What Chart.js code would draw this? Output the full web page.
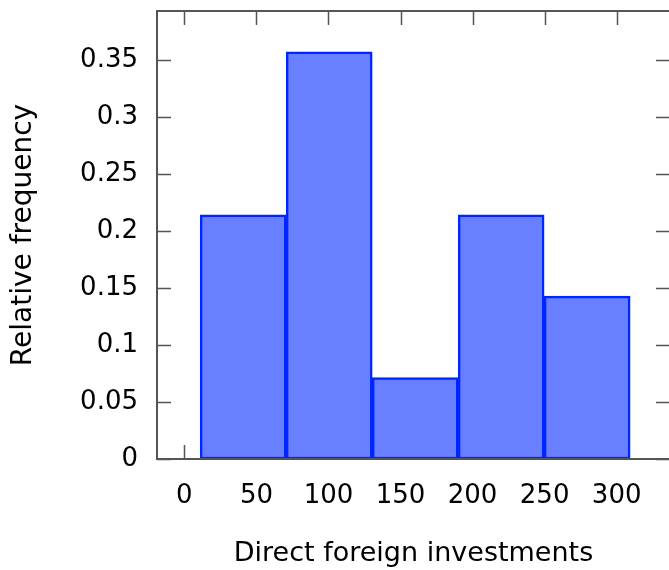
<!DOCTYPE html>
<html>
<head>
<meta charset="utf-8">
<script src="https://cdn.jsdelivr.net/npm/chart.js@4/dist/chart.umd.min.js"></script>
<style>
  html, body { margin: 0; padding: 0; overflow: hidden; background: #fff; }
  canvas { display: block; }
</style>
</head>
<body>
<canvas id="hist" width="672" height="570"></canvas>
<script>
// Histogram bins (centres) and relative frequencies
const binCenters = [40.8, 100.5, 160.2, 219.8, 279.5];
const relFreq = [0.2143, 0.3571, 0.0714, 0.2143, 0.1429];
const xTicks = [0, 50, 100, 150, 200, 250, 300];
const yTicks = [0, 0.05, 0.1, 0.15, 0.2, 0.25, 0.3, 0.35];

const axisColor = '#555555';
const fontFamily = '"DejaVu Sans", Verdana, sans-serif';

// gnuplot-style frame with inward ticks on all four sides
const frameTicks = {
  id: 'frameTicks',
  beforeDatasetsDraw(chart) {
    const { ctx, chartArea: a, scales: { x, y } } = chart;
    const len = 14;
    ctx.save();
    ctx.strokeStyle = axisColor;
    ctx.lineWidth = 1.5;
    ctx.beginPath();
    x.ticks.forEach(t => {
      const px = Math.round(x.getPixelForValue(t.value)) + 0.5;
      ctx.moveTo(px, a.bottom); ctx.lineTo(px, a.bottom - len);
      ctx.moveTo(px, a.top); ctx.lineTo(px, a.top + len);
    });
    y.ticks.forEach(t => {
      const py = Math.round(y.getPixelForValue(t.value)) + 0.5;
      ctx.moveTo(a.left, py); ctx.lineTo(a.left + len, py);
      ctx.moveTo(a.right, py); ctx.lineTo(a.right - len, py);
    });
    ctx.stroke();
    ctx.restore();
  },
  afterDatasetsDraw(chart) {
    const { ctx, chartArea: a } = chart;
    ctx.save();
    ctx.strokeStyle = axisColor;
    ctx.lineWidth = 2;
    ctx.strokeRect(a.left, a.top, a.right - a.left, a.bottom - a.top);
    ctx.restore();
  }
};

new Chart(document.getElementById('hist'), {
  type: 'bar',
  data: {
    datasets: [{
      data: binCenters.map((c, i) => ({ x: c, y: relFreq[i] })),
      backgroundColor: 'rgb(104,127,255)',
      borderColor: 'rgb(0,38,255)',
      borderWidth: 2.5,
      borderSkipped: false,
      barThickness: 'flex',
      barPercentage: 1,
      categoryPercentage: 1,
    }],
  },
  options: {
    responsive: false,
    animation: false,
    layout: { padding: { top: 11, right: 2, left: 0, bottom: 0 } },
    plugins: { legend: { display: false }, tooltip: { enabled: false } },
    scales: {
      x: {
        type: 'linear',
        offset: false,
        min: -19,
        max: 337,
        afterBuildTicks: s => { s.ticks = xTicks.map(v => ({ value: v })); },
        afterFit: s => { s.height = 111; s.paddingLeft = 0; s.paddingRight = 0; },
        grid: { display: false, drawTicks: false },
        border: { display: false },
        ticks: {
          padding: 22,
          color: '#000',
          font: { family: fontFamily, size: 26 },
          maxRotation: 0,
        },
        title: {
          display: true,
          text: 'Direct foreign investments',
          color: '#000',
          font: { family: fontFamily, size: 27 },
          padding: { top: 8, bottom: 0 },
        },
      },
      y: {
        min: 0,
        max: 0.393,
        afterBuildTicks: s => { s.ticks = yTicks.map(v => ({ value: v })); },
        afterFit: s => { s.width = 157; s.paddingTop = 0; s.paddingBottom = 0; },
        grid: { display: false, drawTicks: false },
        border: { display: false },
        ticks: {
          padding: 19,
          color: '#000',
          font: { family: fontFamily, size: 26 },
          callback: v => String(+v.toFixed(2)),
        },
        title: {
          display: true,
          text: 'Relative frequency',
          color: '#000',
          font: { family: fontFamily, size: 28 },
          padding: { top: 7, bottom: 0 },
        },
      },
    },
  },
  plugins: [frameTicks],
});
</script>
</body>
</html>
